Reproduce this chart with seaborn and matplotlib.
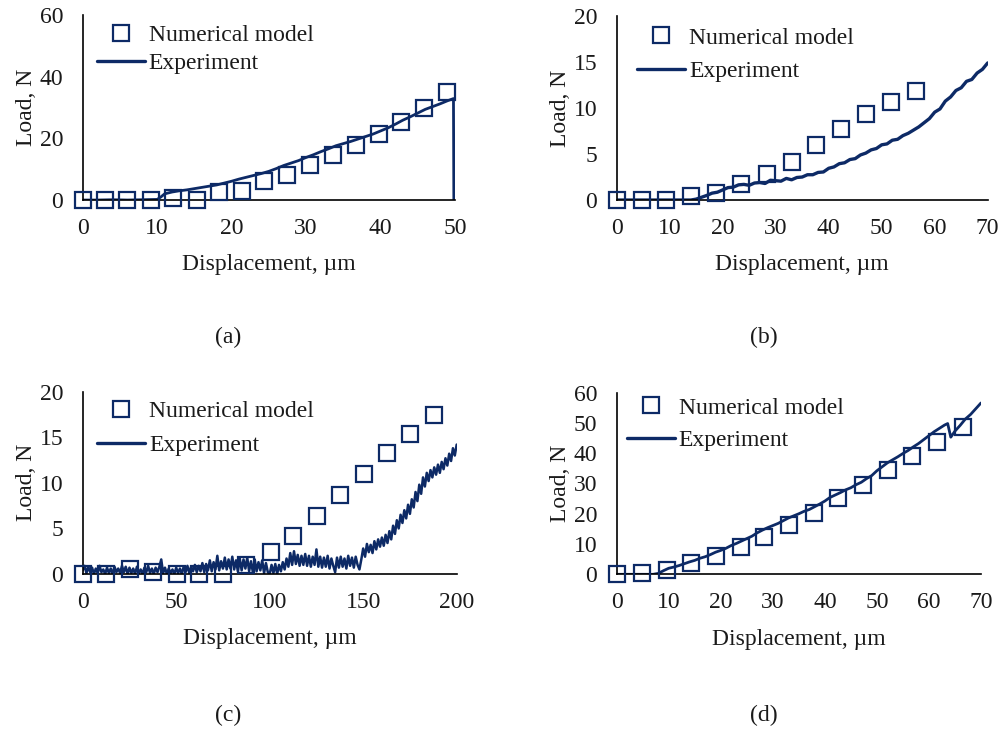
import numpy as np
import pandas as pd
import matplotlib
matplotlib.use("Agg")
import matplotlib.pyplot as plt
from matplotlib.lines import Line2D
import seaborn as sns

sns.set_theme(style="white")
plt.rcParams["font.family"] = ["Liberation Serif", "DejaVu Serif"]

NAVY = "#0d2a66"
TEXT = "#1a1a1a"
FS = 17

# ---------------- (a) ----------------
a_model_x = [0, 3.0, 6.0, 9.2, 12.1, 15.4, 18.3, 21.4, 24.4, 27.5, 30.5, 33.6, 36.7, 39.8, 42.7, 45.8, 48.9]
a_model_y = [0, 0, 0, 0, 0.8, 0, 2.7, 2.9, 6.2, 8.2, 11.5, 14.5, 17.8, 21.5, 25.4, 30.0, 34.9]
a_exp_x = [0, 2, 4, 6, 8, 10, 10.5, 11, 12, 13, 14, 15, 16, 17, 18, 19, 20, 21, 22, 23, 24, 25,
           26, 27, 28, 29, 30, 31, 32, 33, 34, 35, 36, 37, 38, 39, 40, 41, 42, 43, 44, 45, 46,
           47, 48, 49, 49.8, 49.85]
a_exp_y = [0, 0, 0.1, 0, 0.1, 0.2, 1.0, 2.0, 2.6, 3.0, 3.3, 3.7, 4.1, 4.5, 4.9, 5.5, 6.1, 6.8,
           7.4, 8.0, 8.6, 9.3, 10.2, 11.2, 12.0, 12.8, 13.8, 14.7, 15.7, 16.6, 17.6, 18.3, 19.0,
           19.8, 20.6, 21.4, 22.4, 23.4, 24.6, 25.9, 27.0, 28.2, 29.4, 30.3, 31.2, 32.2, 32.9, 0]

# ---------------- (b) ----------------
b_model_x = [0, 4.7, 9.4, 14.0, 18.7, 23.5, 28.3, 33.0, 37.6, 42.3, 47.1, 51.7, 56.4]
b_model_y = [0, 0, 0, 0.4, 0.8, 1.7, 2.8, 4.1, 6.0, 7.7, 9.3, 10.7, 11.8]
b_exp_x = [0, 5, 10, 14, 15, 16, 17, 18, 19, 20, 21, 22, 23, 24, 25, 26, 27, 28, 29, 30, 31, 32,
           33, 34, 35, 36, 37, 38, 39, 40, 41, 42, 43, 44, 45, 46, 47, 48, 49, 50, 51, 52, 53,
           54, 55, 56, 57, 58, 59, 60, 61, 62, 63, 64, 65, 66, 67, 68, 69, 70]
b_exp_y = [0, 0, 0, 0, 0.1, 0.3, 0.5, 0.75, 0.85, 1.1, 1.35, 1.4, 1.65, 1.7, 1.6, 1.85, 1.9,
           1.8, 2.15, 2.1, 2.05, 2.35, 2.2, 2.45, 2.5, 2.75, 2.75, 3.0, 3.05, 3.45, 3.6, 3.95,
           4.05, 4.4, 4.5, 4.9, 5.1, 5.45, 5.6, 6.0, 6.1, 6.5, 6.6, 7.0, 7.25, 7.6, 7.95, 8.4,
           8.85, 9.55, 9.9, 10.75, 11.2, 11.9, 12.2, 12.9, 13.1, 13.8, 14.2, 14.9]

# ---------------- (c) ----------------
c_model_x = [0, 12.5, 25.3, 37.4, 50.3, 62.4, 74.9, 87.3, 100.5, 112.6, 125.1, 137.6, 150.4, 162.5, 175.3, 187.8]
c_model_y = [0, 0, 0.5, 0.2, 0, 0, 0, 0.95, 2.4, 4.2, 6.4, 8.7, 11.0, 13.3, 15.4, 17.5]
# recorded load, sampled every 1 µm from 0 to 200 µm
c_exp_y = [0.4, 0.9, 0.1, 0.8, 0.2, 0.7, 0.0, 0.6, 0.1, 0.9, 0.2, 0.5, 0.0, 0.7, 0.1, 0.6, 0.0,
           0.8, 0.2, 0.6,
           0.1, 0.9, 0.2, 0.8, 0.0, 0.7, 0.1, 0.6, 0.0, 0.8, 0.1, 0.5, 0.0, 0.7, 0.2, 0.9, 0.1,
           0.6, 0.0, 0.7,
           0.2, 0.8, 1.6, 0.1, 0.7, 0.0, 0.6, 0.1, 0.5, 0.0, 0.7, 0.1, 0.6, 0.0, 0.8, 0.2, 0.9,
           0.1, 0.8, 0.3,
           1.0, 0.2, 0.9, 0.3, 1.2, 0.2, 1.1, 0.4, 1.5, 0.3, 1.3, 0.5, 2.0, 0.4, 1.4, 0.6, 1.8,
           0.5, 1.6, 0.6,
           1.9, 0.5, 1.5, 0.3, 1.7, 0.4, 1.6, 0.6, 1.8, 0.3, 1.4, 0.2, 1.6, 0.3, 1.3, 0.4, 1.5,
           0.1, 1.2, 0.2,
           0.0, 1.0, 0.1, 1.1, 0.0, 1.0, 0.3, 1.3, 0.5, 1.7, 0.8, 2.3, 1.0, 2.5, 1.1, 2.1, 0.9,
           2.0, 1.0, 2.2,
           0.9, 2.0, 0.8, 1.9, 1.0, 2.7, 0.8, 1.9, 0.7, 1.8, 0.8, 2.0, 0.6, 1.7, 0.9, 0.2, 1.8,
           0.7, 1.9, 0.8,
           1.7, 0.6, 2.0, 0.9, 1.8, 0.7, 1.9, 1.0, 0.5, 1.6,
           2.8, 1.9, 3.3, 2.4, 3.2, 2.3, 3.6, 2.7, 3.8, 3.0, 4.0, 3.1, 4.3, 3.4, 4.7, 3.8, 5.3,
           4.4, 5.9, 5.0,
           6.5, 5.6, 7.0, 6.1, 7.6, 6.6, 8.2, 7.3, 9.0, 8.0, 9.8, 8.8, 10.6, 9.6, 11.1, 10.2,
           11.4, 10.6, 11.7, 10.9,
           12.0, 11.1, 12.3, 11.5, 12.7, 11.9, 13.2, 12.4, 13.8, 13.0, 14.2]
c_exp_x = np.arange(len(c_exp_y))

# ---------------- (d) ----------------
d_model_x = [0, 4.8, 9.6, 14.3, 19.1, 23.8, 28.4, 33.2, 37.9, 42.6, 47.3, 52.1, 56.8, 61.6, 66.5]
d_model_y = [0, 0.3, 1.4, 3.6, 6.2, 9.1, 12.4, 16.2, 20.4, 25.1, 29.5, 34.3, 39.1, 43.7, 48.5]
d_exp_x = [0, 3, 6, 7, 8, 9, 10, 11, 12, 13, 14, 15, 16, 17, 18, 19, 20, 21, 22, 23, 24, 25,
           26, 27, 28, 29, 30, 31, 32, 33, 34, 35, 36, 37, 38, 39, 40, 41, 42, 43, 44, 45, 46,
           47, 48, 49, 50, 51, 52, 53, 54, 55, 56, 57, 58, 59, 60, 61, 62, 63, 63.6, 64.2, 65,
           66, 67, 68, 69, 70]
d_exp_y = [0, 0, 0, 0, 0.3, 1.2, 2.0, 2.4, 2.9, 3.5, 4.1, 4.6, 5.3, 5.8, 6.5, 7.3, 7.9, 8.6,
           9.5, 10.2, 11.0, 11.8, 12.6, 13.7, 14.6, 15.4, 16.1, 16.8, 17.7, 18.6, 19.3, 20.0,
           20.8, 21.4, 22.3, 23.2, 24.2, 25.4, 26.2, 27.0, 27.9, 28.6, 29.6, 30.4, 31.6, 32.6,
           34.2, 35.5, 36.8, 37.8, 38.8, 39.9, 40.9, 42.1, 43.2, 44.5, 45.8, 47.1, 48.2, 49.3,
           49.8, 45.3, 47.3, 49.2, 51.3, 52.8, 54.7, 56.6]

panels = [
    dict(mx=a_model_x, my=a_model_y, ex=a_exp_x, ey=a_exp_y, xmax=50, xstep=10, ymax=60, ystep=20,
         rect=[0.0823, 0.7271, 0.3704, 0.2524], lw=2.0, tag="(a)", tagpos=(0.227, 0.540),
         leg=(0.038, 0.95), lsp=0.30),
    dict(mx=b_model_x, my=b_model_y, ex=b_exp_x, ey=b_exp_y, xmax=70, xstep=10, ymax=20, ystep=5,
         rect=[0.6136, 0.7271, 0.3692, 0.2511], lw=2.4, tag="(b)", tagpos=(0.760, 0.540),
         leg=(0.055, 0.94), lsp=0.50),
    dict(mx=c_model_x, my=c_model_y, ex=c_exp_x, ey=c_exp_y, xmax=200, xstep=50, ymax=20, ystep=5,
         rect=[0.0823, 0.2169, 0.3721, 0.2487], lw=1.8, tag="(c)", tagpos=(0.227, 0.0246),
         leg=(0.038, 0.95), lsp=0.52),
    dict(mx=d_model_x, my=d_model_y, ex=d_exp_x, ey=d_exp_y, xmax=70, xstep=10, ymax=60, ystep=10,
         rect=[0.6136, 0.2165, 0.3625, 0.2478], lw=2.0, tag="(d)", tagpos=(0.760, 0.0246),
         leg=(0.028, 0.976), lsp=0.47),
]

fig = plt.figure(figsize=(10.05, 7.33), dpi=100)
fig.patch.set_facecolor("white")

for p in panels:
    ax = fig.add_axes(p["rect"])
    exp_df = pd.DataFrame({"x": p["ex"], "y": p["ey"]})
    mod_df = pd.DataFrame({"x": p["mx"], "y": p["my"]})
    sns.lineplot(data=exp_df, x="x", y="y", ax=ax, color=NAVY, lw=p["lw"],
                 estimator=None, sort=False, zorder=2)
    sns.lineplot(data=mod_df, x="x", y="y", ax=ax, linestyle="", marker="s",
                 ms=11, mfc="none", mec=NAVY, mew=1.6, estimator=None, sort=False,
                 clip_on=False, zorder=3)
    ax.set_xlim(0, p["xmax"])
    ax.set_ylim(0, p["ymax"])
    ax.set_xticks(np.arange(0, p["xmax"] + 1, p["xstep"]))
    ax.set_yticks(np.arange(0, p["ymax"] + 1, p["ystep"]))
    ax.tick_params(length=0, labelsize=FS, colors=TEXT)
    ax.tick_params(axis="x", pad=13)
    ax.tick_params(axis="y", pad=14)
    for s in ("top", "right"):
        ax.spines[s].set_visible(False)
    for s in ("left", "bottom"):
        ax.spines[s].set_color("black")
        ax.spines[s].set_linewidth(1.2)
    ax.set_xlabel("Displacement, µm", fontsize=FS, color=TEXT, labelpad=11)
    ax.set_ylabel("Load, N", fontsize=FS, color=TEXT, labelpad=2)
    ax.set_facecolor("white")
    ax.grid(False)

    handles = [
        Line2D([], [], linestyle="", marker="s", ms=11, mfc="none", mec=NAVY, mew=1.6),
        Line2D([], [], color=NAVY, lw=2.4),
    ]
    ax.legend(handles, ["Numerical model", "Experiment"], loc="upper left",
              bbox_to_anchor=p["leg"], frameon=False, fontsize=FS, handlelength=2.05,
              handletextpad=0.15, labelspacing=p["lsp"], borderpad=0, borderaxespad=0,
              labelcolor=TEXT)

    fig.text(p["tagpos"][0], p["tagpos"][1], p["tag"], fontsize=FS, color=TEXT,
             ha="center", va="center")

fig.savefig("out.png", dpi=100, facecolor="white")
